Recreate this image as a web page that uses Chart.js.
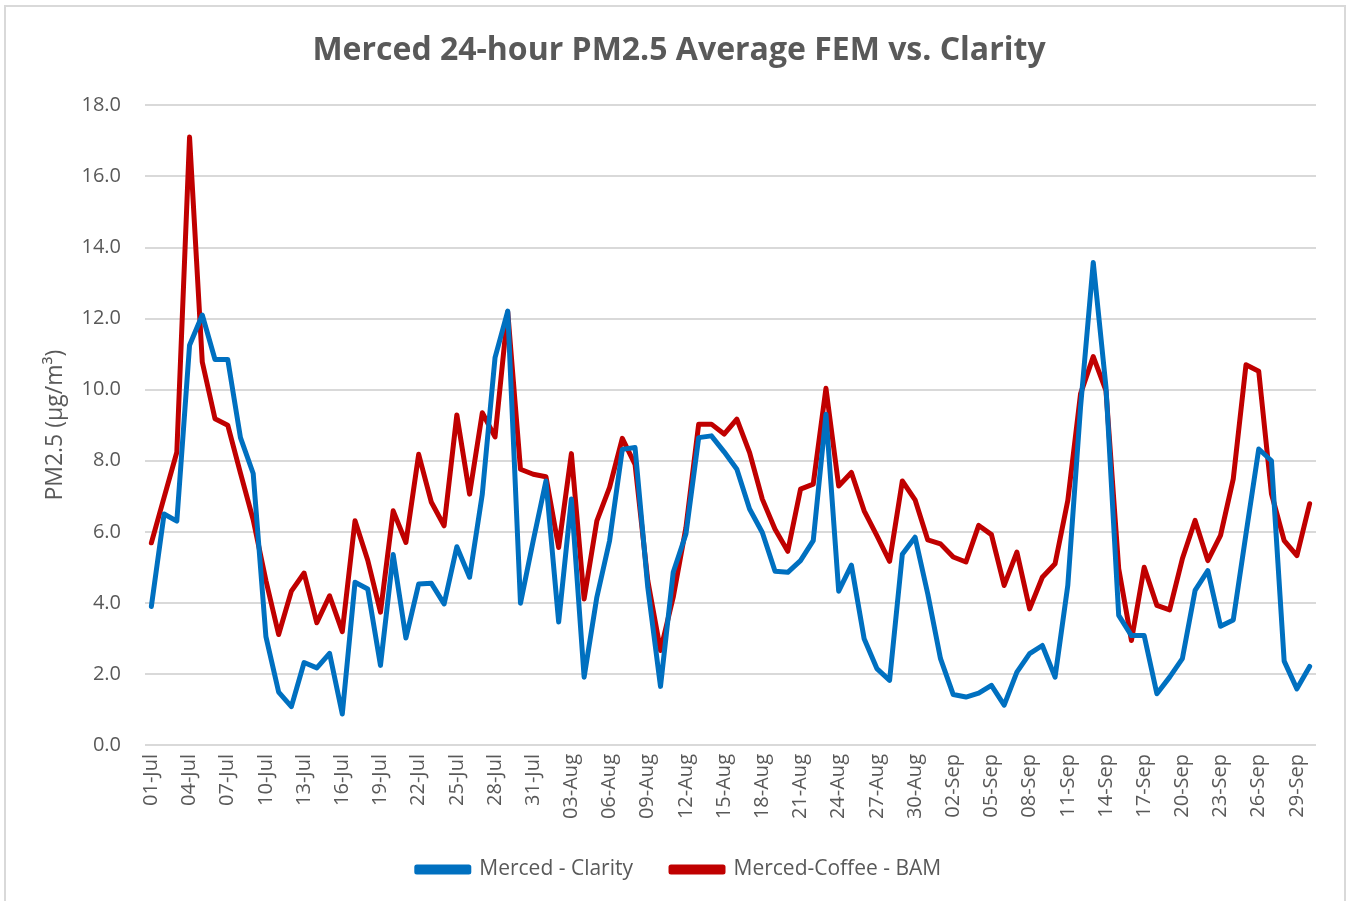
<!DOCTYPE html>
<html>
<head>
<meta charset="utf-8">
<title>Merced 24-hour PM2.5 Average FEM vs. Clarity</title>
<script src="https://cdn.jsdelivr.net/npm/chart.js@4.4.1/dist/chart.umd.min.js"></script>
<style>
  html, body { margin: 0; padding: 0; background: #fff; overflow: hidden; }
  #wrap { position: relative; width: 1346px; height: 901px; }
  #frame {
    position: absolute; left: 4px; top: 5px; width: 1342px; height: 1000px;
    border: 2px solid #d9d9d9; box-sizing: border-box; pointer-events: none;
  }
  canvas { position: absolute; left: 0; top: 0; }
</style>
</head>
<body>
<div id="wrap">
  <canvas id="pmChart" width="1346" height="901"></canvas>
  <div id="frame"></div>
</div>
<script>
// Days, 01-Jul to 30-Sep
const days = [
  '01-Jul','02-Jul','03-Jul','04-Jul','05-Jul','06-Jul','07-Jul','08-Jul','09-Jul','10-Jul',
  '11-Jul','12-Jul','13-Jul','14-Jul','15-Jul','16-Jul','17-Jul','18-Jul','19-Jul','20-Jul',
  '21-Jul','22-Jul','23-Jul','24-Jul','25-Jul','26-Jul','27-Jul','28-Jul','29-Jul','30-Jul','31-Jul',
  '01-Aug','02-Aug','03-Aug','04-Aug','05-Aug','06-Aug','07-Aug','08-Aug','09-Aug','10-Aug',
  '11-Aug','12-Aug','13-Aug','14-Aug','15-Aug','16-Aug','17-Aug','18-Aug','19-Aug','20-Aug',
  '21-Aug','22-Aug','23-Aug','24-Aug','25-Aug','26-Aug','27-Aug','28-Aug','29-Aug','30-Aug','31-Aug',
  '01-Sep','02-Sep','03-Sep','04-Sep','05-Sep','06-Sep','07-Sep','08-Sep','09-Sep','10-Sep',
  '11-Sep','12-Sep','13-Sep','14-Sep','15-Sep','16-Sep','17-Sep','18-Sep','19-Sep','20-Sep',
  '21-Sep','22-Sep','23-Sep','24-Sep','25-Sep','26-Sep','27-Sep','28-Sep','29-Sep','30-Sep'
];

// Merced - Clarity (ug/m3)
const clarity = [
  3.9, 6.5, 6.3, 11.25, 12.1, 10.85, 10.85, 8.65, 7.64, 3.05,
  1.49, 1.08, 2.32, 2.17, 2.58, 0.87, 4.58, 4.39, 2.24, 5.36,
  3.01, 4.53, 4.55, 3.97, 5.58, 4.72, 7.06, 10.9, 12.21, 3.99, 5.75,
  7.43, 3.46, 6.92, 1.91, 4.16, 5.75, 8.32, 8.37, 4.44, 1.65,
  4.86, 5.94, 8.65, 8.7, 8.25, 7.76, 6.64, 5.98, 4.89, 4.86,
  5.19, 5.75, 9.31, 4.33, 5.06, 2.99, 2.15, 1.82, 5.37, 5.85, 4.25,
  2.43, 1.42, 1.35, 1.46, 1.68, 1.12, 2.05, 2.57, 2.8, 1.91,
  4.49, 9.5, 13.58, 10.07, 3.65, 3.08, 3.08, 1.44, 1.91, 2.43,
  4.35, 4.91, 3.34, 3.52, 5.94, 8.33, 8.0, 2.36, 1.58, 2.21
];

// Merced-Coffee - BAM (ug/m3)
const bam = [
  5.69, 6.97, 8.24, 17.11, 10.78, 9.18, 9.0, 7.65, 6.34, 4.63,
  3.11, 4.33, 4.84, 3.44, 4.2, 3.19, 6.31, 5.2, 3.74, 6.59,
  5.7, 8.18, 6.83, 6.17, 9.29, 7.06, 9.35, 8.67, 12.19, 7.76, 7.62,
  7.55, 5.56, 8.2, 4.11, 6.31, 7.25, 8.63, 7.9, 4.63, 2.66,
  4.16, 6.12, 9.03, 9.03, 8.75, 9.17, 8.23, 6.92, 6.07, 5.45,
  7.2, 7.34, 10.04, 7.29, 7.67, 6.59, 5.89, 5.17, 7.43, 6.9, 5.77,
  5.66, 5.29, 5.15, 6.18, 5.92, 4.49, 5.43, 3.83, 4.72, 5.1,
  6.88, 9.88, 10.93, 9.97, 4.96, 2.94, 5.0, 3.93, 3.8, 5.24,
  6.32, 5.19, 5.9, 7.49, 10.7, 10.52, 7.07, 5.75, 5.33, 6.79
];

const textColor = '#595959';
const gridColor = '#d9d9d9';
const fontFamily = '"Open Sans", "Noto Sans", sans-serif';

const ctx = document.getElementById('pmChart').getContext('2d');

new Chart(ctx, {
    type: 'line',
    data: {
        labels: days,
        datasets: [
            {
                label: 'Merced - Clarity',
                data: clarity,
                borderColor: '#0070C0',
                backgroundColor: '#0070C0',
                borderWidth: 5,
                pointRadius: 0,
                borderCapStyle: 'round',
                borderJoinStyle: 'round',
                tension: 0
            },
            {
                label: 'Merced-Coffee - BAM',
                data: bam,
                borderColor: '#C00000',
                backgroundColor: '#C00000',
                borderWidth: 5,
                pointRadius: 0,
                borderCapStyle: 'round',
                borderJoinStyle: 'round',
                tension: 0
            }
        ]
    },
    options: {
        responsive: false,
        animation: false,
        layout: {
            padding: { left: 42, right: 30, top: 0, bottom: 11 }
        },
        plugins: {
            title: {
                display: true,
                text: 'Merced 24-hour PM2.5 Average FEM vs. Clarity',
                color: textColor,
                font: { family: fontFamily, size: 32, weight: 'bold' },
                padding: { top: 32, bottom: 35 }
            },
            legend: {
                position: 'bottom',
                labels: {
                    color: textColor,
                    font: { family: fontFamily, size: 21 },
                    boxWidth: 52,
                    boxHeight: 5,
                    padding: 38
                }
            },
            tooltip: { enabled: false }
        },
        scales: {
            x: {
                offset: true,
                grid: { display: false, drawTicks: false },
                border: { display: false },
                ticks: {
                    autoSkip: false,
                    minRotation: 90,
                    maxRotation: 90,
                    padding: 9,
                    color: textColor,
                    font: { family: fontFamily, size: 20 },
                    callback: (v, i) => i % 3 === 0 ? days[i] : null
                },
                afterFit: (scale) => { scale.height = 76; }
            },
            y: {
                min: 0,
                max: 18,
                ticks: {
                    stepSize: 2,
                    padding: 24,
                    color: textColor,
                    font: { family: fontFamily, size: 20 },
                    callback: (v) => v.toFixed(1)
                },
                grid: { color: gridColor, lineWidth: 2, drawTicks: false },
                border: { display: false },
                title: {
                    display: true,
                    text: 'PM2.5 (µg/m³)',
                    color: textColor,
                    font: { family: fontFamily, size: 23 },
                    padding: { top: 0, bottom: 0 }
                },
                afterFit: (scale) => { scale.width = 103; }
            }
        }
    }
});
</script>
</body>
</html>
